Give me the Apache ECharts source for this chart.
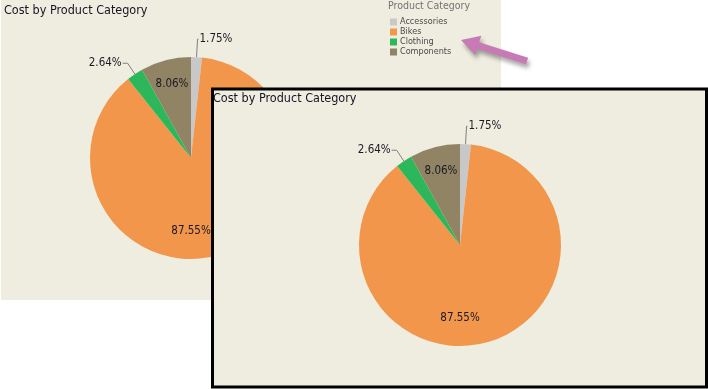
<!DOCTYPE html>
<html><head><meta charset="utf-8">
<script src="https://cdn.jsdelivr.net/npm/echarts@6/dist/echarts.min.js"></script>
<style>html,body{margin:0;padding:0;background:#fff}#c{width:708px;height:389px}</style>
</head><body><div id="c"></div>
<script>
// ---- data ----
const titleText = 'Cost by Product Category';
const legendTitle = 'Product Category';
const categories = ['Accessories', 'Bikes', 'Clothing', 'Components'];
const costShare = [1.75, 87.55, 2.64, 8.06];

// ---- styles ----
const sliceColors = ['#C8C8C8', '#F1964B', '#2CB85A', '#908465'];
const labelPos = ['outside', 'inside', 'outside', 'inside'];
const lineLen = [[18, 1], [0, 0], [13, 5], [0, 0]];
const insideShift = [null, [-14.8, 21.6], null, [-5.6, -22.2]];
const FONT = "'DejaVu Sans Condensed', 'DejaVu Sans', sans-serif";
const BG = '#EFEDE0';

function pieData() {
  return categories.map((name, i) => ({
    name: name,
    value: costShare[i],
    itemStyle: { color: sliceColors[i] },
    label: { position: labelPos[i] },
    labelLine: { show: labelPos[i] === 'outside', length: lineLen[i][0], length2: lineLen[i][1] }
  }));
}

function pieSeries(center, z) {
  return {
    type: 'pie',
    z: z,
    center: center,
    radius: 101,
    startAngle: 90,
    clockwise: true,
    avoidLabelOverlap: false,
    silent: true,
    itemStyle: { borderWidth: 0 },
    label: {
      show: true,
      formatter: p => p.value.toFixed(2) + '%',
      color: '#1a1a24',
      fontFamily: FONT,
      fontSize: 11.5,
      distanceToLabelLine: 1
    },
    labelLine: { show: true, smooth: false, lineStyle: { color: '#7f7f7f', width: 1 } },
    labelLayout: function (params) {
      const s = insideShift[params.dataIndex];
      return s ? { dx: s[0], dy: s[1] } : {};
    },
    emphasis: { disabled: true },
    data: pieData()
  };
}

const chart = echarts.init(document.getElementById('c'));
chart.setOption({
  animation: false,
  backgroundColor: '#fff',
  title: [
    { text: titleText, left: 4, top: 4, padding: 0, z: 6,
      textStyle: { fontFamily: FONT, fontSize: 12.5, fontWeight: 'normal', color: '#141424' } },
    { text: titleText, left: 213, top: 92, padding: 0, z: 8,
      textStyle: { fontFamily: FONT, fontSize: 12.5, fontWeight: 'normal', color: '#141424' } },
    { text: legendTitle, left: 388, top: 1, padding: 0, z: 6,
      textStyle: { fontFamily: FONT, fontSize: 10.5, fontWeight: 'normal', color: '#737373' } }
  ],
  legend: {
    orient: 'vertical',
    left: 390,
    top: 17,
    padding: 0,
    itemWidth: 7,
    itemHeight: 7,
    itemGap: 0,
    icon: 'rect',
    selectedMode: false,
    data: categories,
    textStyle: { fontFamily: FONT, fontSize: 9, color: '#4a4a4a', lineHeight: 10, padding: [0, 0, 0, -2] }
  },
  graphic: {
    elements: [
      { type: 'rect', z: 0, silent: true, shape: { x: 1, y: 0, width: 500, height: 300 },
        style: { fill: BG } },
      { type: 'rect', z: 3, silent: true, shape: { x: 212.5, y: 89, width: 494, height: 298 },
        style: { fill: BG, stroke: '#000', lineWidth: 3 } },
      { type: 'polygon', z: 10, silent: true,
        shape: { points: [[528.1, 57.7], [479.2, 42.2], [481.3, 35.8], [461, 40], [475.1, 55.0], [477.1, 48.8], [525.9, 64.3]] },
        style: { fill: '#C77AB4', shadowBlur: 4, shadowColor: 'rgba(0,0,0,0.35)', shadowOffsetX: 2, shadowOffsetY: 4 } }
    ]
  },
  series: [
    pieSeries([191, 158], 1),
    pieSeries([460, 245], 5)
  ]
});
</script></body></html>
